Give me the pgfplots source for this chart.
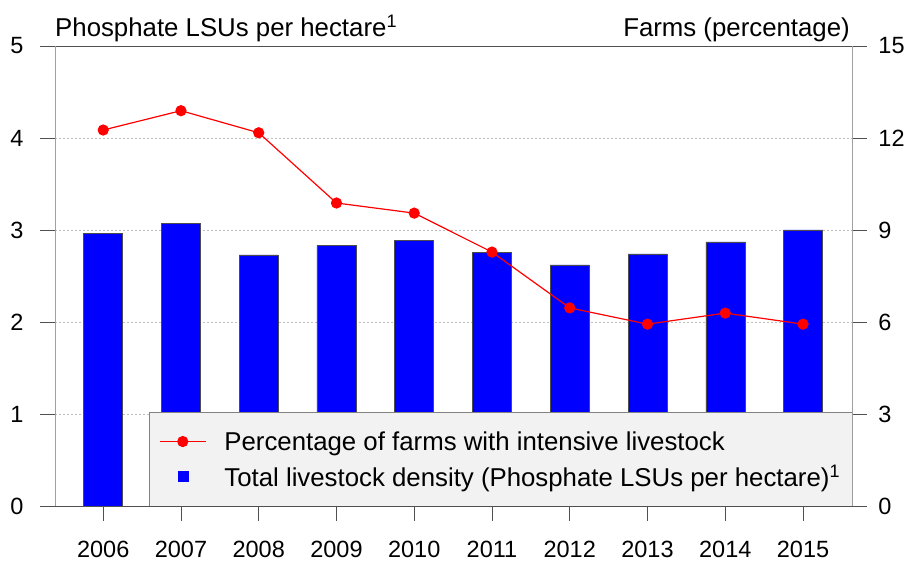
\documentclass[border=0pt]{standalone}
\usepackage{fontspec}
\setmainfont{Liberation Sans}
\usepackage{pgfplots}
\pgfplotsset{compat=1.18}
\definecolor{axdark}{RGB}{80,80,80}
\definecolor{axlight}{RGB}{160,160,160}
\definecolor{gridc}{RGB}{190,190,190}
\definecolor{legfill}{RGB}{242,242,242}
\definecolor{legdraw}{RGB}{130,130,130}
\begin{document}
\begin{tikzpicture}
\pgfplotsset{
  myaxis/.style={
    scale only axis, width=797pt, height=460pt,
    xmin=2005.38, xmax=2015.63,
    separate axis lines,
    x axis line style={draw=axdark, line width=0.8pt},
    y axis line style={draw=axlight, line width=0.8pt},
    tick align=outside,
    major tick length=15pt,
    tick style={draw=axdark, line width=0.8pt},
    ticklabel style={font=\fontsize{23.5}{27}\selectfont},
    /pgf/number format/assume math mode=true,
  }
}
\begin{axis}[myaxis, name=main,
  ymin=0, ymax=5, ytick={0,1,2,3,4,5},
  ytick pos=left, xtick pos=bottom,
  xtick={2006,2007,2008,2009,2010,2011,2012,2013,2014,2015},
  xticklabels={2006,2007,2008,2009,2010,2011,2012,2013,2014,2015},
  ymajorgrids, grid style={gridc, dash pattern=on 2pt off 2pt, line width=0.6pt},
  yticklabel style={xshift=-13pt},
  xticklabel style={yshift=-17pt},
]
\addplot[ybar, bar width=39pt, fill=blue, draw=black!70, line width=0.5pt] coordinates {
(2006,2.96) (2007,3.07) (2008,2.73) (2009,2.83) (2010,2.89)
(2011,2.76) (2012,2.62) (2013,2.74) (2014,2.87) (2015,3.00)};
\end{axis}
\begin{axis}[myaxis,
  ymin=0, ymax=15, ytick={0,3,6,9,12,15},
  hide x axis, axis y line*=right, ytick pos=right,
  yticklabel style={xshift=8pt},
  legend style={draw=none, fill=none, at={(0.1267,0.101)}, anchor=west,
    font=\fontsize{25.8}{30}\selectfont, row sep=9pt, column sep=16pt,
    legend cell align=left},
  legend image code/.code={\draw[mark repeat=2,mark phase=2] plot coordinates {(0pt,0pt)(23pt,0pt)(46pt,0pt)};},
]
\draw[legdraw, fill=legfill, line width=0.8pt] (rel axis cs:0.1179,0) rectangle (rel axis cs:1,0.2043);
\addplot[red, line width=1.2pt, mark=*, mark size=5pt] coordinates {
(2006,12.26) (2007,12.89) (2008,12.17) (2009,9.88) (2010,9.55)
(2011,8.28) (2012,6.46) (2013,5.93) (2014,6.29) (2015,5.93)};
\addlegendentry{Percentage of farms with intensive livestock}
\addlegendimage{only marks, mark=square*, blue, mark size=5pt}
\addlegendentry{Total livestock density (Phosphate LSUs per hectare)\textsuperscript{1}}
\end{axis}
\node[anchor=base west, font=\fontsize{25.8}{30}\selectfont, inner sep=0pt] at ([yshift=9pt]main.north west) {Phosphate LSUs per hectare\textsuperscript{1}};
\node[anchor=base east, font=\fontsize{25.8}{30}\selectfont, inner sep=0pt] at ([xshift=-2pt,yshift=9pt]main.north east) {Farms (percentage)};
\pgfresetboundingbox
\path (main.south west) ++(-55pt,-59pt) rectangle ++(914pt,565pt);
\end{tikzpicture}
\end{document}
